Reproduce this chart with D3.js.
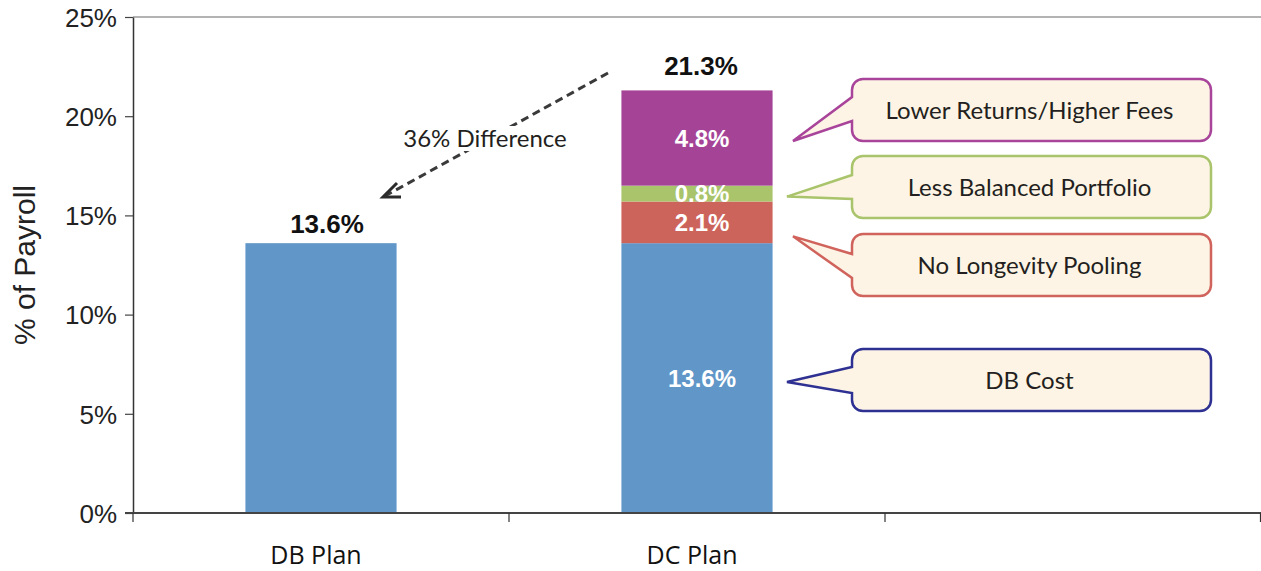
<!DOCTYPE html>
<html>
<head>
<meta charset="utf-8">
<script src="https://cdn.jsdelivr.net/npm/d3@7"></script>
<style>
  html, body { margin: 0; padding: 0; background: #fff; }
  svg { display: block; }
</style>
</head>
<body>
<svg id="chart" width="1261" height="571"></svg>
<script>
// Plan categories (third slot left empty for the callouts)
const categories = ["DB Plan", "DC Plan", ""];
// DB plan cost, % of payroll
const dbValues = [13.6];
// DC plan cost build-up, % of payroll (bottom to top)
const dcComponents = ["DB Cost", "No Longevity Pooling", "Less Balanced Portfolio", "Lower Returns/Higher Fees"];
const dcValues = [13.6, 2.1, 0.8, 4.8];
const dcTotal = [21.3];
const yTicks = [0, 5, 10, 15, 20, 25];
const differenceLabel = ["36% Difference"];

const segColors = ["#6096C8", "#CD645B", "#A9C46B", "#A54497"];
const calloutStroke = ["#2E3192", "#D0645D", "#A9C46B", "#A9449B"];

const svg = d3.select("#chart");
const m = { left: 133, right: 1261, top: 17, bottom: 513 };

const x = d3.scaleBand().domain(categories).range([m.left, m.right]).padding(0);
const y = d3.scaleLinear().domain([0, 25]).range([m.bottom, m.top]);
const barW = x.bandwidth() * 0.402;

// top frame line
svg.append("line")
  .attr("x1", m.left).attr("x2", m.right)
  .attr("y1", y(25)).attr("y2", y(25))
  .attr("stroke", "#9a9a9a").attr("stroke-width", 1.5);

// y axis
const yAxis = svg.append("g")
  .attr("transform", `translate(${m.left},0)`)
  .call(d3.axisLeft(y).tickValues(yTicks).tickSize(8).tickSizeOuter(0).tickFormat(d => d + "%"));
yAxis.select(".domain").attr("stroke", "#333").attr("stroke-width", 1.5);
yAxis.selectAll(".tick line").attr("stroke", "#444").attr("stroke-width", 1.2);
yAxis.selectAll(".tick text")
  .attr("x", -16).attr("dy", "0.36em")
  .style("font-family", "Liberation Sans, Arial, sans-serif")
  .style("font-size", "26px").attr("fill", "#222");

// y axis title
svg.append("text")
  .attr("transform", `translate(35,${(m.top + m.bottom) / 2}) rotate(-90)`)
  .attr("text-anchor", "middle")
  .style("font-family", "Liberation Sans, Arial, sans-serif")
  .style("font-size", "30px").attr("fill", "#222")
  .text("% of Payroll");

// bars: DB plan
svg.append("g").selectAll("rect").data(dbValues).join("rect")
  .attr("x", x("DB Plan") + (x.bandwidth() - barW) / 2)
  .attr("width", barW)
  .attr("y", d => y(d))
  .attr("height", d => y(0) - y(d))
  .attr("fill", segColors[0]);

// bars: DC plan stacked
let acc = 0;
const dcStack = dcValues.map((v, i) => {
  const s = { v, i, y0: acc, y1: acc + v };
  acc += v;
  return s;
});
const dcX = x("DC Plan") + (x.bandwidth() - barW) / 2;
svg.append("g").selectAll("rect").data(dcStack).join("rect")
  .attr("x", dcX)
  .attr("width", barW)
  .attr("y", d => y(d.y1))
  .attr("height", d => y(d.y0) - y(d.y1))
  .attr("fill", d => segColors[d.i]);

// x axis
const xAxisG = svg.append("g").attr("transform", `translate(0,${m.bottom})`);
xAxisG.append("line")
  .attr("x1", m.left - 8).attr("x2", m.right)
  .attr("stroke", "#444").attr("stroke-width", 2);
xAxisG.selectAll("line.tk").data(categories.map(c => x(c)).concat([m.right - 0.5])).join("line")
  .attr("class", "tk")
  .attr("x1", d => d).attr("x2", d => d)
  .attr("y1", 0).attr("y2", 9)
  .attr("stroke", "#333").attr("stroke-width", 1.2);
xAxisG.selectAll("text").data(categories.filter(c => c)).join("text")
  .attr("x", d => x(d) + x.bandwidth() / 2 - 5)
  .attr("y", 51)
  .attr("text-anchor", "middle")
  .style("font-family", "Open Sans, sans-serif")
  .style("font-size", "25px").attr("fill", "#111")
  .text(d => d);

// value labels
const boldFont = "Liberation Sans, Arial, sans-serif";
svg.append("text")
  .attr("x", x("DB Plan") + x.bandwidth() / 2 + 6)
  .attr("y", y(dbValues[0]) - 10)
  .attr("text-anchor", "middle")
  .style("font-family", boldFont).style("font-weight", "bold")
  .style("font-size", "26px").attr("fill", "#111")
  .text(dbValues[0].toFixed(1) + "%");

svg.append("text")
  .attr("x", dcX + barW / 2 + 4)
  .attr("y", y(dcTotal[0]) - 15)
  .attr("text-anchor", "middle")
  .style("font-family", boldFont).style("font-weight", "bold")
  .style("font-size", "26px").attr("fill", "#111")
  .text(dcTotal[0].toFixed(1) + "%");

svg.append("g").selectAll("text").data(dcStack).join("text")
  .attr("x", dcX + barW / 2 + 5)
  .attr("y", d => y((d.y0 + d.y1) / 2))
  .attr("dy", "0.36em")
  .attr("text-anchor", "middle")
  .style("font-family", boldFont).style("font-weight", "bold")
  .style("font-size", "24px").attr("fill", "#fff")
  .text(d => d.v.toFixed(1) + "%");

// callouts, one per DC segment
const boxL = 852, boxR = 1211, boxH = 62, rad = 11;
const boxCenters = [380, 265, 187, 110];
const tipX = [787, 793, 787, 793];
const baseHalf = [13, 12, 12, 12];

function calloutPath(cy, tx, ty, bh) {
  const t = cy - boxH / 2, b = cy + boxH / 2;
  let b1, b2;
  if (ty < cy - 10) { b1 = t + rad + 9; b2 = b1 + bh * 2; }
  else if (ty > cy + 10) { b2 = b - rad - 9; b1 = b2 - bh * 2; }
  else { b1 = cy - bh; b2 = cy + bh; }
  const p = d3.path();
  p.moveTo(boxL + rad, t);
  p.lineTo(boxR - rad, t);
  p.arcTo(boxR, t, boxR, t + rad, rad);
  p.lineTo(boxR, b - rad);
  p.arcTo(boxR, b, boxR - rad, b, rad);
  p.lineTo(boxL + rad, b);
  p.arcTo(boxL, b, boxL, b - rad, rad);
  p.lineTo(boxL, b2);
  p.lineTo(tx, ty);
  p.lineTo(boxL, b1);
  p.lineTo(boxL, t + rad);
  p.arcTo(boxL, t, boxL + rad, t, rad);
  p.closePath();
  return p.toString();
}

const tipOffsets = [4, 14, 3, 3];
const callouts = svg.append("g").selectAll("g").data(dcStack).join("g");
callouts.append("path")
  .attr("d", d => calloutPath(boxCenters[d.i], tipX[d.i], y((d.y0 + d.y1) / 2) + tipOffsets[d.i], baseHalf[d.i]))
  .attr("fill", "#FDF4E5")
  .attr("stroke", d => calloutStroke[d.i])
  .attr("stroke-width", 2.5)
  .attr("stroke-linejoin", "miter");
callouts.append("text")
  .attr("x", (boxL + boxR) / 2 - 2)
  .attr("y", d => boxCenters[d.i])
  .attr("dy", "0.36em")
  .attr("text-anchor", "middle")
  .style("font-family", "Lato, sans-serif")
  .style("font-size", "24px").attr("fill", "#231f20")
  .text(d => dcComponents[d.i]);

// dashed arrow from DC total down to DB bar
const a0 = [608, 73], a1 = [385, 196];
svg.append("line")
  .attr("x1", a0[0]).attr("y1", a0[1]).attr("x2", a1[0]).attr("y2", a1[1])
  .attr("stroke", "#3a3a3a").attr("stroke-width", 3)
  .attr("stroke-dasharray", "8,5");
svg.append("path")
  .attr("d", `M${a1[0] + 12},${a1[1] - 13} L${a1[0] - 2},${a1[1] + 1} L${a1[0] + 16},${a1[1] + 1}`)
  .attr("fill", "none").attr("stroke", "#2b2b2b").attr("stroke-width", 3);

const diffG = svg.append("g");
const diffBg = diffG.append("rect").attr("fill", "#fff");
const diffText = diffG.append("text")
  .attr("x", 485).attr("y", 147)
  .attr("text-anchor", "middle")
  .style("font-family", "Lato, sans-serif")
  .style("font-size", "24px").attr("fill", "#231f20")
  .text(differenceLabel[0]);
const bb = diffText.node().getBBox();
diffBg
  .attr("x", bb.x - 2).attr("y", bb.y + 3)
  .attr("width", bb.width + 4).attr("height", bb.height - 4);
</script>
</body>
</html>
